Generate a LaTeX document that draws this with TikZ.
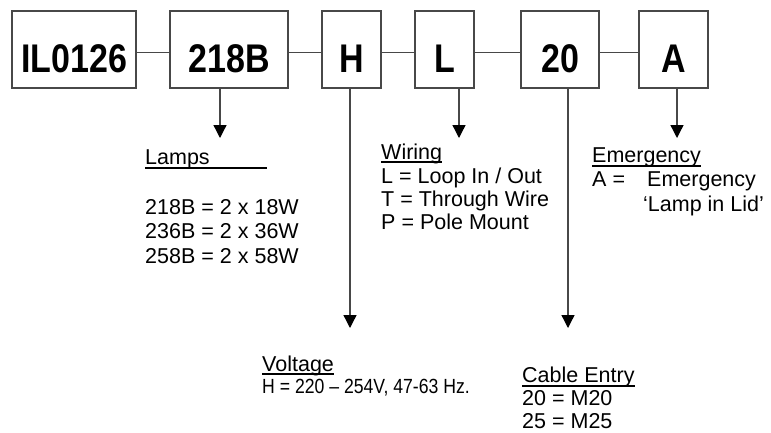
\documentclass[tikz,border=0pt]{standalone}
\usepackage{fontspec}
\setmainfont{Liberation Sans}
\newfontfamily\boxfont{Liberation Sans}[FakeStretch=0.85]
\newfontfamily\narrowfont{Liberation Sans}[FakeStretch=0.86]
\usetikzlibrary{arrows.meta}
\definecolor{linegray}{RGB}{72,72,72}

\begin{document}
\begin{tikzpicture}[x=1pt,y=-1pt]
        \tikzset{code/.style={draw=linegray,line width=1.3pt,inner sep=0pt,anchor=base,
                              text height=61pt,text depth=16pt,
                              font=\boxfont\bfseries\fontsize{40}{40}\selectfont},
                 note/.style={anchor=base west,inner sep=0pt,font=\fontsize{21.5}{24}\selectfont},
                 link/.style={draw=linegray,line width=1.3pt},
                 lead/.style={link,-{Triangle[width=13pt,length=13pt,color=black]}},
                 uline/.style={draw=black,line width=2pt}}
        \useasboundingbox (0,0) rectangle (771,432);

        % code boxes
        \node[code,minimum width=124pt] (il)   at (74,72)    {IL0126};
        \node[code,minimum width=118pt] (b218) at (229,72)   {218B};
        \node[code,minimum width=59pt]  (bh)   at (351.5,72) {H};
        \node[code,minimum width=59pt]  (bl)   at (444.5,72) {L};
        \node[code,minimum width=78pt]  (b20)  at (560,72)   {20};
        \node[code,minimum width=69pt]  (ba)   at (673.5,72) {A};

        \foreach \a/\b in {il/b218,b218/bh,bh/bl,bl/b20,b20/ba}
            \draw[link] ([yshift=-3pt]\a.east) -- ([yshift=-3pt]\b.west);

        % arrow tips
        \coordinate (lampsTip)   at (220,138);
        \coordinate (voltTip)    at (350,328);
        \coordinate (wiringTip)  at (459,138);
        \coordinate (cableTip)   at (568,328);
        \coordinate (emergTip)   at (677,138);

        \draw[lead] (b218.south -| lampsTip)  -- (lampsTip);
        \draw[lead] (bh.south -| voltTip)     -- (voltTip);
        \draw[lead] (bl.south -| wiringTip)   -- (wiringTip);
        \draw[lead] (b20.south -| cableTip)   -- (cableTip);
        \draw[lead] (ba.south -| emergTip)    -- (emergTip);

        % lamps
        \node[note] (lamps) at (145,164) {Lamps};
        \draw[uline] ([yshift=-4pt]lamps.base west) -- ++(122,0);
        \node[note] (lamp1) at (145,214) {218B = 2 x 18W};
        \node[note] (lamp2) at (145,238) {236B = 2 x 36W};
        \node[note] (lamp3) at (145,263) {258B = 2 x 58W};

        % wiring
        \node[note] (wiring) at (381,159) {Wiring};
        \draw[uline] ([yshift=-3pt]wiring.base west) -- ([yshift=-3pt]wiring.base east);
        \node[note] (wire1) at (381,183) {L = Loop In / Out};
        \node[note] (wire2) at (381,206) {T = Through Wire};
        \node[note] (wire3) at (381,229) {P = Pole Mount};

        % emergency
        \node[note] (emerg) at (592,162) {Emergency};
        \draw[uline] ([yshift=-3.5pt]emerg.base west) -- ([yshift=-3.5pt]emerg.base east);
        \node[note] (emergA)   at (592,186) {A =};
        \node[note] (emergTxt) at (647,186) {Emergency};
        \node[note] (emergLid) at (643,211) {‘Lamp in Lid’};

        % voltage
        \node[note] (volt) at (262,371) {Voltage};
        \draw[uline] ([yshift=-3pt]volt.base west) -- ([yshift=-3pt]volt.base east);
        \node[note,font=\narrowfont\fontsize{20.5}{22}\selectfont] (volt1) at (262,393) {H = 220 – 254V, 47-63 Hz.};

        % cable entry
        \node[note] (cable) at (522,382) {Cable Entry};
        \draw[uline] ([yshift=-3.5pt]cable.base west) -- ([yshift=-3.5pt]cable.base east);
        \node[note] (cable1) at (522,405) {20 = M20};
        \node[note] (cable2) at (522,428) {25 = M25};
    \end{tikzpicture}
\end{document}
